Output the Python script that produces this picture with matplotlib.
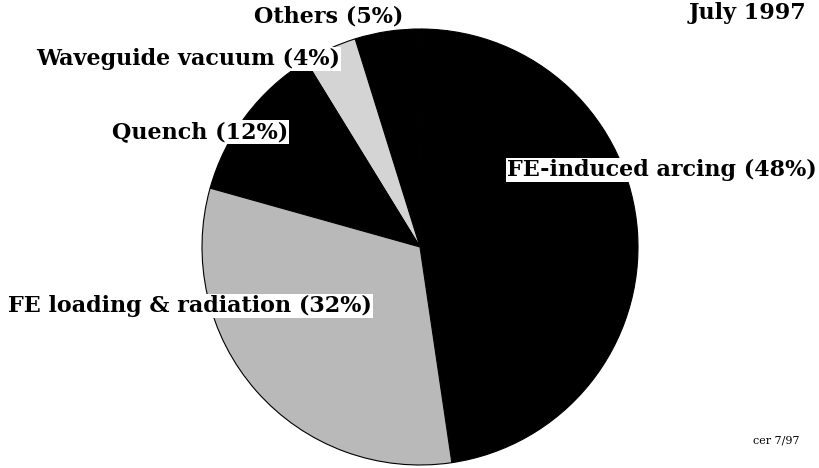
import matplotlib
matplotlib.use("Agg")
import matplotlib.pyplot as plt

# fault causes, July 1997
labels = ["FE-induced arcing (48%)", "Others (5%)", "Waveguide vacuum (4%)",
          "Quench (12%)", "FE loading & radiation (32%)"]
shares = [48, 5, 4, 12, 32]
colors = ["#000000", "#000000", "#d4d4d4", "#000000", "#b9b9b9"]

# label anchor positions in pixels (x from left, y from top)
label_x = [817, 329, 188, 200, 190]
label_y = [170, 16, 59, 132, 306]
label_ha = ["right", "center", "center", "center", "center"]

W, H = 820, 468
fig = plt.figure(figsize=(8.2, 4.68), dpi=100)
ax = fig.add_axes([0, 0, 1, 1])

wedges, _ = ax.pie(shares, colors=colors, startangle=-81.6, counterclock=True,
                   center=(420, H - 247), radius=218,
                   wedgeprops=dict(linewidth=0.8, edgecolor="black"))
ax.set_xlim(0, W)
ax.set_ylim(0, H)
ax.set_aspect("equal")
ax.axis("off")

font = dict(family="DejaVu Serif", weight="bold", fontsize=16)
for txt, x, y, ha in zip(labels, label_x, label_y, label_ha):
    ax.text(x, H - y, txt, ha=ha, va="center",
            bbox=dict(facecolor="white", edgecolor="none", pad=1.0), **font)

ax.text(748, H - 2, "July 1997", ha="center", va="top", **font)
ax.text(776, H - 441, "cer 7/97", ha="center", va="center",
        family="DejaVu Serif", fontsize=8)

fig.savefig("out.png", dpi=100)
